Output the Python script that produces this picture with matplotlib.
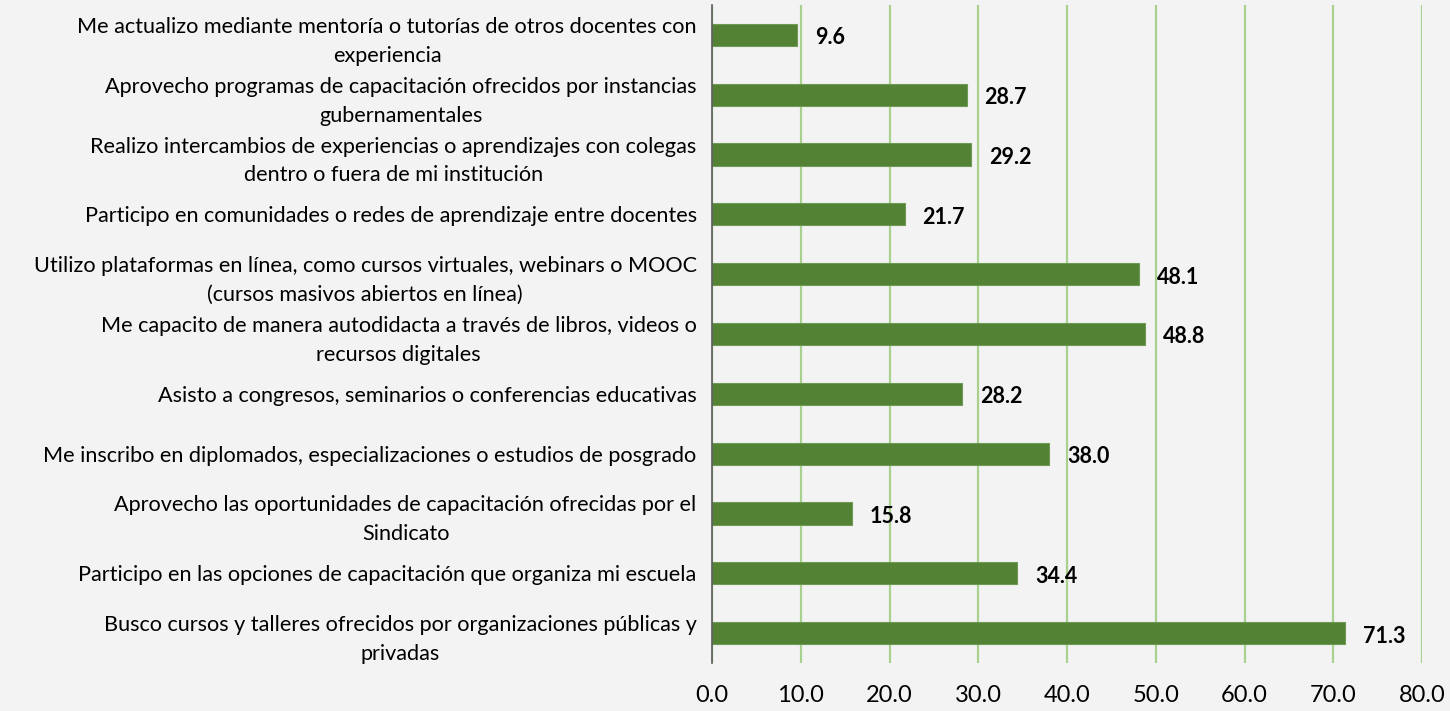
import matplotlib
matplotlib.use("Agg")
import matplotlib.pyplot as plt

categories = [
    "Me actualizo mediante mentoría o tutorías de otros docentes con\nexperiencia",
    "Aprovecho programas de capacitación ofrecidos por instancias\ngubernamentales",
    "Realizo intercambios de experiencias o aprendizajes con colegas\ndentro o fuera de mi institución",
    "Participo en comunidades o redes de aprendizaje entre docentes",
    "Utilizo plataformas en línea, como cursos virtuales, webinars o MOOC\n(cursos masivos abiertos en línea)",
    "Me capacito de manera autodidacta a través de libros, videos o\nrecursos digitales",
    "Asisto a congresos, seminarios o conferencias educativas",
    "Me inscribo en diplomados, especializaciones o estudios de posgrado",
    "Aprovecho las oportunidades de capacitación ofrecidas por el\nSindicato",
    "Participo en las opciones de capacitación que organiza mi escuela",
    "Busco cursos y talleres ofrecidos por organizaciones públicas y\nprivadas",
]
values = [9.6, 28.7, 29.2, 21.7, 48.1, 48.8, 28.2, 38.0, 15.8, 34.4, 71.3]
xticks = [0, 10, 20, 30, 40, 50, 60, 70, 80]

plt.rcParams['font.family'] = ['Lato', 'DejaVu Sans']
bg = '#f3f3f3'
fig = plt.figure(figsize=(14.5, 7.11), dpi=100, facecolor=bg)
ax = fig.add_axes([712/1450, 1-663/711, (1422-712)/1450, (663-5)/711])
ax.set_facecolor(bg)

pos = list(range(len(values)))
ax.barh(pos, values, height=0.37, color='#548235', edgecolor='#6f9a55', linewidth=0.8, zorder=3)
for p, v in zip(pos, values):
    ax.text(v + 2.0, p + 0.05, f"{v:.1f}", va='center', ha='left', fontsize=15.5,
            fontweight='bold', color='black', zorder=4)

ax.set_ylim(len(values) - 0.5, -0.5)
ax.set_yticks(pos)
ax.set_yticklabels(categories, fontsize=15.6, linespacing=1.55, ha='right', multialignment='center')
ax.set_xlim(0, 80)
ax.set_xticks(xticks)
ax.set_xticklabels([f"{t:.1f}" for t in xticks], fontsize=17)
ax.tick_params(axis='both', length=0)
ax.tick_params(axis='x', pad=16)
ax.tick_params(axis='y', pad=11)
ax.xaxis.grid(True, color='#a9d18e', linewidth=1.6, zorder=0)
ax.set_axisbelow(True)
for s in ['top', 'right', 'bottom']:
    ax.spines[s].set_visible(False)
ax.spines['left'].set_color('#595959')
ax.spines['left'].set_linewidth(1.2)
ax.spines['left'].set_zorder(5)

fig.savefig('out.png', dpi=100, facecolor=bg)
